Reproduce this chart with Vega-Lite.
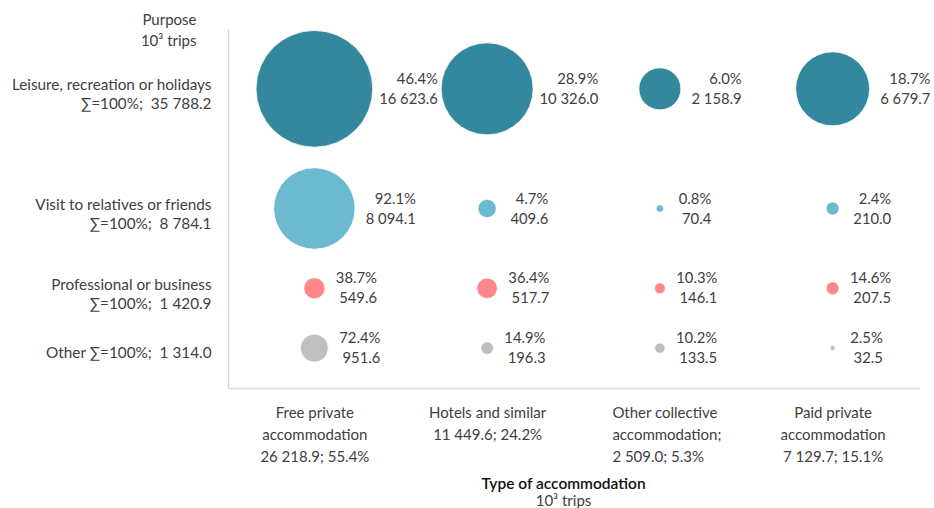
{
  "$schema": "https://vega.github.io/schema/vega-lite/v6.json",
  "width": 691,
  "height": 359,
  "autosize": {"type": "none"},
  "padding": {"left": 228, "top": 29, "right": 15, "bottom": 120},
  "config": {
    "view": {"stroke": null},
    "font": "Lato",
    "locale": {"number": {"decimal": ".", "thousands": " ", "grouping": [3], "currency": ["", ""]}}
  },
  "title": {
    "text": "Type of accommodation",
    "subtitle": "10³ trips",
    "orient": "bottom",
    "anchor": "middle",
    "dx": -10,
    "offset": 13,
    "fontSize": 15.5,
    "fontWeight": 600,
    "color": "#111111",
    "subtitleFontSize": 15,
    "subtitleColor": "#404040",
    "subtitlePadding": 1
  },
  "data": {
    "values": [
      {"purpose": "Leisure, recreation or holidays|∑=100%;\u00a0 35 788.2", "accommodation": "Free private|accommodation|26 218.9; 55.4%", "trips": 16623.6, "share": 0.464},
      {"purpose": "Leisure, recreation or holidays|∑=100%;\u00a0 35 788.2", "accommodation": "Hotels and similar|11 449.6; 24.2%", "trips": 10326.0, "share": 0.289},
      {"purpose": "Leisure, recreation or holidays|∑=100%;\u00a0 35 788.2", "accommodation": "Other collective|accommodation;|2 509.0; 5.3%", "trips": 2158.9, "share": 0.060},
      {"purpose": "Leisure, recreation or holidays|∑=100%;\u00a0 35 788.2", "accommodation": "Paid private|accommodation|7 129.7; 15.1%", "trips": 6679.7, "share": 0.187},
      {"purpose": "Visit to relatives or friends|∑=100%;\u00a0 8 784.1", "accommodation": "Free private|accommodation|26 218.9; 55.4%", "trips": 8094.1, "share": 0.921},
      {"purpose": "Visit to relatives or friends|∑=100%;\u00a0 8 784.1", "accommodation": "Hotels and similar|11 449.6; 24.2%", "trips": 409.6, "share": 0.047},
      {"purpose": "Visit to relatives or friends|∑=100%;\u00a0 8 784.1", "accommodation": "Other collective|accommodation;|2 509.0; 5.3%", "trips": 70.4, "share": 0.008},
      {"purpose": "Visit to relatives or friends|∑=100%;\u00a0 8 784.1", "accommodation": "Paid private|accommodation|7 129.7; 15.1%", "trips": 210.0, "share": 0.024},
      {"purpose": "Professional or business|∑=100%;\u00a0 1 420.9", "accommodation": "Free private|accommodation|26 218.9; 55.4%", "trips": 549.6, "share": 0.387},
      {"purpose": "Professional or business|∑=100%;\u00a0 1 420.9", "accommodation": "Hotels and similar|11 449.6; 24.2%", "trips": 517.7, "share": 0.364},
      {"purpose": "Professional or business|∑=100%;\u00a0 1 420.9", "accommodation": "Other collective|accommodation;|2 509.0; 5.3%", "trips": 146.1, "share": 0.103},
      {"purpose": "Professional or business|∑=100%;\u00a0 1 420.9", "accommodation": "Paid private|accommodation|7 129.7; 15.1%", "trips": 207.5, "share": 0.146},
      {"purpose": "Other ∑=100%;\u00a0 1 314.0", "accommodation": "Free private|accommodation|26 218.9; 55.4%", "trips": 951.6, "share": 0.724},
      {"purpose": "Other ∑=100%;\u00a0 1 314.0", "accommodation": "Hotels and similar|11 449.6; 24.2%", "trips": 196.3, "share": 0.149},
      {"purpose": "Other ∑=100%;\u00a0 1 314.0", "accommodation": "Other collective|accommodation;|2 509.0; 5.3%", "trips": 133.5, "share": 0.102},
      {"purpose": "Other ∑=100%;\u00a0 1 314.0", "accommodation": "Paid private|accommodation|7 129.7; 15.1%", "trips": 32.5, "share": 0.025}
    ]
  },
  "encoding": {
    "x": {
      "field": "accommodation",
      "type": "nominal",
      "sort": null,
      "scale": {
        "type": "point",
        "padding": 0.5,
        "domain": [
          "Free private|accommodation|26 218.9; 55.4%",
          "Hotels and similar|11 449.6; 24.2%",
          "Other collective|accommodation;|2 509.0; 5.3%",
          "Paid private|accommodation|7 129.7; 15.1%"
        ]
      },
      "axis": {
        "title": null,
        "labelExpr": "split(datum.label, '|')",
        "labelAngle": 0,
        "labelFontSize": 15,
        "labelColor": "#404040",
        "labelLineHeight": 22,
        "labelPadding": 17,
        "labelBaseline": "top",
        "labelAlign": {"condition": {"test": "indexof(datum.label, 'Other collective') == 0", "value": "left"}, "value": "center"},
        "labelOffset": {"condition": {"test": "indexof(datum.label, 'Other collective') == 0", "value": -48}, "value": 0},
        "labelLimit": 0,
        "ticks": false,
        "grid": false,
        "domainColor": "#d9d9d9",
        "domainWidth": 1.5
      }
    },
    "y": {
      "field": "purpose",
      "type": "nominal",
      "scale": {
        "type": "point",
        "padding": 0,
        "domain": [
          "_a", "_b", "_c",
          "Leisure, recreation or holidays|∑=100%;\u00a0 35 788.2",
          "_1", "_2", "_3", "_4", "_5",
          "Visit to relatives or friends|∑=100%;\u00a0 8 784.1",
          "_6", "_7", "_8",
          "Professional or business|∑=100%;\u00a0 1 420.9",
          "_9", "_10",
          "Other ∑=100%;\u00a0 1 314.0",
          "_d", "_e"
        ]
      },
      "axis": {
        "title": ["Purpose", "10³ trips"],
        "titleAngle": 0,
        "titleAlign": "right",
        "titleBaseline": "top",
        "titleX": -32,
        "titleY": -17,
        "titleFontSize": 15,
        "titleFontWeight": "normal",
        "titleColor": "#404040",
        "titleLineHeight": 21,
        "labelExpr": "indexof(datum.label, '_') == 0 ? '' : split(datum.label, '|')",
        "labelFontSize": 15.3,
        "labelColor": "#404040",
        "labelLineHeight": 19,
        "labelPadding": 17,
        "labelOffset": {"condition": {"test": "indexof(datum.label, '|') >= 0", "value": -4}, "value": 4},
        "labelLimit": 0,
        "ticks": false,
        "grid": false,
        "domainColor": "#d9d9d9",
        "domainWidth": 1.5
      }
    }
  },
  "layer": [
    {
      "mark": {"type": "circle", "opacity": 1, "stroke": "white", "strokeWidth": 0.8},
      "encoding": {
        "size": {
          "field": "trips",
          "type": "quantitative",
          "scale": {"domain": [0, 16623.6], "range": [0, 13619], "zero": true},
          "legend": null
        },
        "color": {
          "field": "purpose",
          "type": "nominal",
          "scale": {
            "domain": [
              "Leisure, recreation or holidays|∑=100%;\u00a0 35 788.2",
              "Visit to relatives or friends|∑=100%;\u00a0 8 784.1",
              "Professional or business|∑=100%;\u00a0 1 420.9",
              "Other ∑=100%;\u00a0 1 314.0"
            ],
            "range": ["#34889e", "#6bbacf", "#ff8787", "#bfbfbf"]
          },
          "legend": null
        }
      }
    },
    {
      "mark": {
        "type": "text",
        "align": "right",
        "baseline": "middle",
        "dy": -9,
        "fontSize": 14.8,
        "color": "#404040",
        "dx": {"expr": "sqrt(datum.trips * 0.2048) + 30 + 4.4 * max(length(format(datum.trips, ',.1f')), length(format(datum.share, '.1%')))"}
      },
      "encoding": {
        "text": {"field": "share", "type": "quantitative", "format": ".1%"}
      }
    },
    {
      "mark": {
        "type": "text",
        "align": "right",
        "baseline": "middle",
        "dy": 11,
        "fontSize": 14.8,
        "color": "#404040",
        "dx": {"expr": "sqrt(datum.trips * 0.2048) + 30 + 4.4 * max(length(format(datum.trips, ',.1f')), length(format(datum.share, '.1%')))"}
      },
      "encoding": {
        "text": {"field": "trips", "type": "quantitative", "format": ",.1f"}
      }
    }
  ]
}
